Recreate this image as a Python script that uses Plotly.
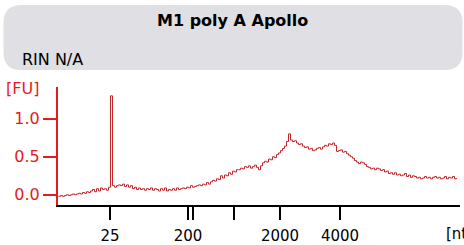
import plotly.graph_objects as go

# Electropherogram values [FU], sampled every 0.25 s of migration time
fu = [
    -0.02, -0.01, -0.02, -0.01, 0.00, -0.01, 0.00, 0.01, 0.00, 0.01,
    0.02, 0.01, 0.03, 0.02, 0.04, 0.03, 0.05, 0.07, 0.04, 0.08,
    0.05, 0.09, 0.07, 0.08, 0.06, 0.10, 1.30, 0.12, 0.10, 0.12,
    0.13, 0.12, 0.14, 0.11, 0.13, 0.10, 0.12, 0.08, 0.10, 0.07,
    0.09, 0.07, 0.08, 0.06, 0.08, 0.07, 0.09, 0.06, 0.08, 0.07,
    0.05, 0.08, 0.06, 0.09, 0.05, 0.07, 0.06, 0.08, 0.06, 0.09,
    0.07, 0.08, 0.09, 0.08, 0.10, 0.09, 0.12, 0.10, 0.11, 0.12,
    0.13, 0.12, 0.14, 0.13, 0.16, 0.14, 0.17, 0.19, 0.18, 0.21,
    0.20, 0.25, 0.22, 0.26, 0.25, 0.29, 0.27, 0.31, 0.30, 0.33,
    0.33, 0.35, 0.34, 0.37, 0.36, 0.38, 0.35, 0.37, 0.39, 0.36,
    0.33, 0.38, 0.42, 0.44, 0.43, 0.47, 0.46, 0.50, 0.49, 0.53,
    0.55, 0.58, 0.61, 0.64, 0.70, 0.80, 0.72, 0.70, 0.71, 0.68,
    0.66, 0.67, 0.64, 0.62, 0.63, 0.60, 0.61, 0.58, 0.59, 0.61,
    0.62, 0.60, 0.63, 0.65, 0.64, 0.67, 0.66, 0.68, 0.65, 0.57,
    0.58, 0.59, 0.56, 0.57, 0.54, 0.52, 0.50, 0.48, 0.45, 0.43,
    0.41, 0.43, 0.42, 0.40, 0.37, 0.36, 0.34, 0.35, 0.33, 0.35,
    0.34, 0.32, 0.33, 0.30, 0.31, 0.28, 0.29, 0.27, 0.29, 0.26,
    0.27, 0.25, 0.26, 0.28, 0.24, 0.26, 0.23, 0.25, 0.24, 0.22,
    0.23, 0.21, 0.22, 0.24, 0.22, 0.23, 0.21, 0.23, 0.24, 0.22,
    0.23, 0.21, 0.22, 0.24, 0.21, 0.23, 0.22, 0.24, 0.21, 0.22,
]
sample_start_s = 18.0625
sample_step_s = 0.25
time_s = [sample_start_s + sample_step_s * i for i in range(len(fu))]

# Ladder ticks (migration time in s -> size label)
ladder_time_s = [24.5, 34.25, 34.875, 40.0, 45.75, 53.25]
ladder_labels = ["25", "200", "", "", "2000", "4000"]

y_tickvals = [0.0, 0.5, 1.0]
y_ticktext = ["0.0", "0.5", "1.0"]

title_text = "M1 poly A Apollo"
rin_text = "RIN N/A"

W, H = 464, 245
ML, MR, MT, MB = 58, 4, 87, 40
PW, PH = W - ML - MR, H - MT - MB

RED = "#e41c1c"
FONT = "DejaVu Sans"


def px(x):
    return (x - ML) / PW


def py(y):
    return (H - MB - y) / PH


def rounded_rect(x0, y0, x1, y1, r):
    pts = [
        f"M {px(x0 + r)},{py(y0)}",
        f"L {px(x1 - r)},{py(y0)}",
        f"Q {px(x1)},{py(y0)} {px(x1)},{py(y0 + r)}",
        f"L {px(x1)},{py(y1 - r)}",
        f"Q {px(x1)},{py(y1)} {px(x1 - r)},{py(y1)}",
        f"L {px(x0 + r)},{py(y1)}",
        f"Q {px(x0)},{py(y1)} {px(x0)},{py(y1 - r)}",
        f"L {px(x0)},{py(y0 + r)}",
        f"Q {px(x0)},{py(y0)} {px(x0 + r)},{py(y0)}",
        "Z",
    ]
    return " ".join(pts)


fig = go.Figure()
fig.add_trace(go.Scatter(
    x=time_s, y=fu, mode="lines",
    line=dict(color="#c0262c", width=1, shape="hv"),
    showlegend=False, hoverinfo="skip",
))

fig.update_layout(
    width=W, height=H,
    margin=dict(l=ML, r=MR, t=MT, b=MB, pad=0),
    paper_bgcolor="white", plot_bgcolor="white",
    font=dict(family=FONT, size=15, color="black"),
    xaxis=dict(
        range=[18.0, 18.0 + PW / 8.0],
        showgrid=False, zeroline=False,
        showline=True, linecolor="black", linewidth=2,
        ticks="outside", ticklen=13, tickwidth=2, tickcolor="black",
        tickvals=ladder_time_s, ticktext=ladder_labels,
        tickfont=dict(family=FONT, size=15, color="black"),
        ticklabelstandoff=3,
        automargin=False,
    ),
    yaxis=dict(
        range=[-0.134, 1.416],
        showgrid=False, zeroline=False,
        showline=True, linecolor=RED, linewidth=2,
        ticks="outside", ticklen=13, tickwidth=2, tickcolor=RED,
        tickvals=y_tickvals, ticktext=y_ticktext,
        tickfont=dict(family=FONT, size=16, color=RED),
        automargin=False,
    ),
    shapes=[dict(
        type="path", xref="paper", yref="paper", layer="below",
        path=rounded_rect(3.5, 5, 462.5, 70, 18),
        fillcolor="#dfdfe4", line=dict(width=0),
    )],
    annotations=[
        dict(text=f"<b>{title_text}</b>", xref="paper", yref="paper",
             x=px(232), y=py(20), xanchor="center", yanchor="middle",
             showarrow=False, font=dict(family=FONT, size=16, color="black")),
        dict(text=rin_text, xref="paper", yref="paper",
             x=px(20), y=py(60), xanchor="left", yanchor="middle",
             showarrow=False, font=dict(family=FONT, size=16, color="black")),
        dict(text="[FU]", xref="paper", yref="paper",
             x=px(4), y=py(88), xanchor="left", yanchor="middle",
             showarrow=False, font=dict(family=FONT, size=16, color=RED)),
        dict(text="[nt]", xref="paper", yref="paper",
             x=px(444), y=py(234), xanchor="left", yanchor="middle",
             showarrow=False, font=dict(family=FONT, size=15, color="black")),
    ],
)

fig.write_html(
    "out.html",
    config={"displayModeBar": False},
    post_script="document.body.style.margin='0';document.body.style.padding='0';",
)
